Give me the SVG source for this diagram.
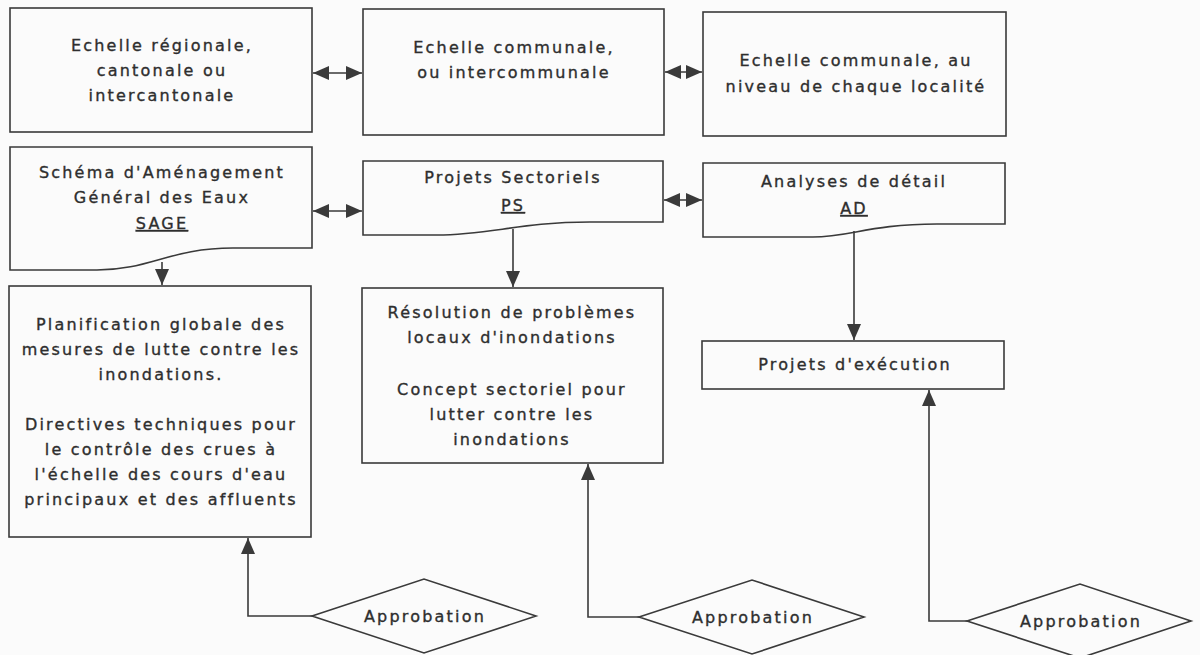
<svg xmlns="http://www.w3.org/2000/svg" width="1200" height="655" viewBox="0 0 1200 655">
  <defs>
    <style>
      .box { fill: none; stroke: #3a3a3a; stroke-width: 1.6; }
      .ln { fill: none; stroke: #3a3a3a; stroke-width: 1.6; }
      .t { font-family: "DejaVu Sans", "Liberation Sans", sans-serif; font-size: 16px; letter-spacing: 2.2px; fill: #2e2e2e; stroke: #2e2e2e; stroke-width: 0.35; text-anchor: middle; }
      .u { text-decoration: underline; }
    </style>
    <marker id="ah" viewBox="0 0 16 14" refX="16" refY="7" markerWidth="16" markerHeight="14" markerUnits="userSpaceOnUse" orient="auto-start-reverse">
      <path d="M0,0 L16,7 L0,14 z" fill="#3a3a3a"/>
    </marker>
  </defs>
  <rect width="1200" height="655" fill="#fbfbfb"/>

  <g id="connectors">
    <line class="ln" x1="313" y1="73" x2="362" y2="73" marker-start="url(#ah)" marker-end="url(#ah)"/>
    <line class="ln" x1="665" y1="72" x2="702" y2="72" marker-start="url(#ah)" marker-end="url(#ah)"/>
    <line class="ln" x1="313" y1="211" x2="362" y2="211" marker-start="url(#ah)" marker-end="url(#ah)"/>
    <line class="ln" x1="664" y1="200" x2="702" y2="200" marker-start="url(#ah)" marker-end="url(#ah)"/>
    <line class="ln" x1="162" y1="262" x2="162" y2="285" marker-end="url(#ah)"/>
    <line class="ln" x1="513" y1="229" x2="513" y2="287" marker-end="url(#ah)"/>
    <line class="ln" x1="854" y1="231" x2="854" y2="340" marker-end="url(#ah)"/>
    <polyline class="ln" points="312,616 248,616 248,538" marker-end="url(#ah)"/>
    <polyline class="ln" points="639,617 588,617 588,464" marker-end="url(#ah)"/>
    <polyline class="ln" points="967,621 929,621 929,390" marker-end="url(#ah)"/>
  </g>

  <g id="n-regional">
    <rect class="box" x="10" y="8" width="302" height="124"/>
    <text class="t" x="162" y="51">Echelle régionale,</text>
    <text class="t" x="162" y="76">cantonale ou</text>
    <text class="t" x="162" y="101">intercantonale</text>
  </g>
  <g id="n-communale">
    <rect class="box" x="363" y="9" width="301" height="126"/>
    <text class="t" x="514" y="53">Echelle communale,</text>
    <text class="t" x="514" y="78">ou intercommunale</text>
  </g>
  <g id="n-localite">
    <rect class="box" x="703" y="12" width="303" height="124"/>
    <text class="t" x="856" y="66">Echelle communale, au</text>
    <text class="t" x="856" y="92">niveau de chaque localité</text>
  </g>

  <g id="n-sage">
    <path class="box" d="M10,147 H312 V248 H233 C170,248 150,270 97,270 H10 Z"/>
    <text class="t" x="162" y="178">Schéma d'Aménagement</text>
    <text class="t" x="162" y="203">Général des Eaux</text>
    <text class="t u" x="162" y="229">SAGE</text>
  </g>
  <g id="n-ps">
    <path class="box" d="M363,161 H663 V222 H590 C520,222 490,235 437,235 H363 Z"/>
    <text class="t" x="513" y="183">Projets Sectoriels</text>
    <text class="t u" x="513" y="211">PS</text>
  </g>
  <g id="n-ad">
    <path class="box" d="M703,163 H1005 V224 H937 C870,224 850,237 813,237 H703 Z"/>
    <text class="t" x="854" y="187">Analyses de détail</text>
    <text class="t u" x="854" y="214">AD</text>
  </g>

  <g id="n-planification">
    <rect class="box" x="9" y="286" width="302" height="251"/>
    <text class="t" x="161" y="330">Planification globale des</text>
    <text class="t" x="161" y="355">mesures de lutte contre les</text>
    <text class="t" x="161" y="380">inondations.</text>
    <text class="t" x="161" y="430">Directives techniques pour</text>
    <text class="t" x="161" y="455">le contrôle des crues à</text>
    <text class="t" x="161" y="480">l'échelle des cours d'eau</text>
    <text class="t" x="161" y="505">principaux et des affluents</text>
  </g>
  <g id="n-resolution">
    <rect class="box" x="362" y="288" width="301" height="175"/>
    <text class="t" x="512" y="318">Résolution de problèmes</text>
    <text class="t" x="512" y="343">locaux d'inondations</text>
    <text class="t" x="512" y="395">Concept sectoriel pour</text>
    <text class="t" x="512" y="420">lutter contre les</text>
    <text class="t" x="512" y="445">inondations</text>
  </g>
  <g id="n-execution">
    <rect class="box" x="702" y="341" width="302" height="48"/>
    <text class="t" x="855" y="370">Projets d'exécution</text>
  </g>

  <g id="n-appro1">
    <polygon class="box" points="312,616 424,579 536,616 424,653"/>
    <text class="t" x="425" y="622">Approbation</text>
  </g>
  <g id="n-appro2">
    <polygon class="box" points="639,617 752,580 864,617 752,654"/>
    <text class="t" x="753" y="623">Approbation</text>
  </g>
  <g id="n-appro3">
    <polygon class="box" points="967,621 1080,584 1191,621 1080,658"/>
    <text class="t" x="1081" y="627">Approbation</text>
  </g>
</svg>
